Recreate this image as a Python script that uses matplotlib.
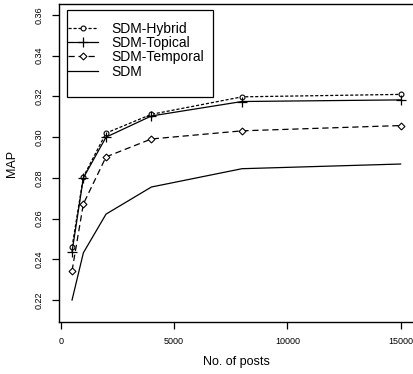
import matplotlib
matplotlib.use("Agg")
import matplotlib.pyplot as plt
from matplotlib.patches import Rectangle

# donnees
posts = [500, 1000, 2000, 4000, 8000, 15000]
hybrid = [0.2460, 0.2805, 0.3020, 0.3112, 0.3198, 0.3210]
topical = [0.2437, 0.2800, 0.3000, 0.3104, 0.3175, 0.3183]
temporal = [0.2344, 0.2672, 0.2903, 0.2991, 0.3031, 0.3057]
sdm = [0.2200, 0.2432, 0.2622, 0.2755, 0.2845, 0.2868]

xticks = [0, 5000, 10000, 15000]
yticks = [0.22, 0.24, 0.26, 0.28, 0.30, 0.32, 0.34, 0.36]

plt.rcParams['font.family'] = ['Liberation Sans', 'DejaVu Sans']

W, H = 413, 374
# zone du graphe en pixels
x0, x1, y0, y1 = 58.9, 413.8, 4, 322
fig = plt.figure(figsize=(W / 100, H / 100), dpi=100)
ax = fig.add_axes([x0 / W, (H - y1) / H, (x1 - x0) / W, (y1 - y0) / H])

def axx(p):
    return (p - x0) / (x1 - x0)

def axy(p):
    return 1 - (p - y0) / (y1 - y0)

lw = 0.9
ax.plot(posts, hybrid, color='black', lw=lw, linestyle=(0, (2.5, 1.5)),
        marker='o', markersize=3.5, markerfacecolor='white', markeredgewidth=0.8,
        label='SDM-Hybrid')
ax.plot(posts, topical, color='black', lw=lw, linestyle='-',
        marker='+', markersize=6.5, markeredgewidth=0.9, label='SDM-Topical')
ax.plot(posts, temporal, color='black', lw=lw, linestyle=(0, (5, 3)),
        marker='D', markersize=3.5, markerfacecolor='white', markeredgewidth=0.8,
        label='SDM-Temporal')
ax.plot(posts, sdm, color='black', lw=lw, linestyle='-', label='SDM')

ax.set_xlim(-80, 15580)
ax.set_ylim(0.2092, 0.3654)
ax.set_xticks(xticks)
ax.set_xticklabels([str(v) for v in xticks])
ax.set_yticks(yticks)
ax.set_yticklabels(['%.2f' % v for v in yticks], rotation=90, va='center')
ax.tick_params(labelsize=6.5, length=5, width=0.9, direction='out')
ax.tick_params(axis='x', pad=6)
ax.tick_params(axis='y', pad=6)
for s in ax.spines.values():
    s.set_linewidth(1.0)

ax.set_xlabel('No. of posts', fontsize=9, labelpad=7)
ax.set_ylabel('MAP', fontsize=9, labelpad=12)

# legende sans cadre + rectangle dessine a la main (style R)
leg = ax.legend(loc='upper left', bbox_to_anchor=(axx(68), axy(21.5)),
                fontsize=10, frameon=False, handlelength=2.15,
                borderpad=0, labelspacing=0.03, handletextpad=1.0,
                borderaxespad=0)
ax.add_patch(Rectangle((axx(67), axy(97)), axx(213) - axx(67), axy(10) - axy(97),
                       transform=ax.transAxes, fill=False, edgecolor='black',
                       linewidth=0.9, zorder=5))

fig.savefig('out.png', dpi=100)
